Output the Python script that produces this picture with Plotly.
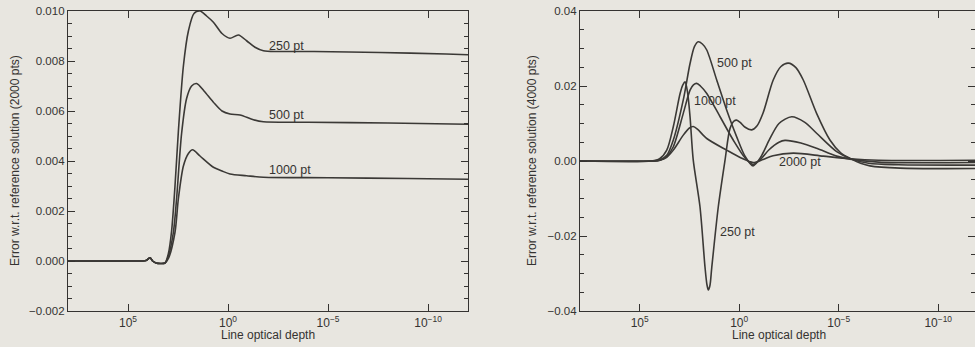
import numpy as np
import plotly.graph_objects as go

# ---------------- Left panel: error w.r.t. 2000-pt reference ----------------
start_log = [8.0, 5.0, 4.1, 3.9, 3.77, 3.6, 3.35, 3.15]
start_err = [0.0, 0.0, 0.00002, 0.00013, 0.0, -0.00008, -0.0001, -0.00008]

L250_log = start_log + [2.98, 2.82, 2.65, 2.48, 2.23, 1.98, 1.70, 1.40, 1.07, 0.73, 0.30, -0.10,
                        -0.52, -0.93, -1.35, -1.77, -2.5, -4.3, -7.6, -10.9, -12.0]
L250_err = start_err + [0.0003, 0.0012, 0.0030, 0.0052, 0.0078, 0.0092, 0.0099, 0.0100, 0.0098,
                        0.00955, 0.0091, 0.00891, 0.00904, 0.00881, 0.00855, 0.00841, 0.00838,
                        0.00838, 0.00834, 0.00828, 0.00825]

L500_log = start_log + [2.98, 2.73, 2.57, 2.32, 2.07, 1.82, 1.57, 1.2, 0.73, 0.3, -0.1, -0.6,
                        -1.27, -1.77, -4.0, -8.0, -12.0]
L500_err = start_err + [0.0002, 0.00115, 0.0025, 0.0051, 0.0065, 0.0070, 0.0071, 0.0068, 0.00635,
                        0.0060, 0.00588, 0.00584, 0.00565, 0.00557, 0.00555, 0.00552, 0.00547]

L1000_log = start_log + [2.98, 2.65, 2.48, 2.23, 1.98, 1.77, 1.4, 0.73, 0.3, -0.1, -0.93, -1.77,
                         -5.0, -9.0, -12.0]
L1000_err = start_err + [0.0001, 0.00115, 0.0025, 0.0038, 0.0043, 0.00445, 0.0042, 0.00375, 0.0036,
                         0.00348, 0.00341, 0.00335, 0.00333, 0.0033, 0.00327]

# ---------------- Right panel: error w.r.t. 4000-pt reference ----------------
R250_log = [8.0, 4.4, 4.0, 3.64, 3.31, 2.97, 2.83, 2.72, 2.6, 2.47, 2.31, 1.97, 1.72, 1.62, 1.55,
            1.47, 1.38, 1.05, 0.71, 0.46, 0.25, 0.13, -0.05, -0.3, -0.63, -0.9, -1.2, -1.71,
            -2.1, -2.47, -2.85, -3.22, -3.89, -4.56, -5.1, -5.57, -6.1, -6.57, -8.08, -12.0]
R250_err = [0.0, 0.0, 0.0006, 0.0029, 0.0092, 0.018, 0.0203, 0.0211, 0.0185, 0.0118, 0.0003,
            -0.0122, -0.0282, -0.0330, -0.0344, -0.0332, -0.0285, -0.0122, 0.0003, 0.0087, 0.0107,
            0.0109, 0.0103, 0.0090, 0.0083, 0.0094, 0.0128, 0.0216, 0.0252, 0.0261, 0.0249,
            0.0216, 0.0127, 0.0056, 0.0022, 0.0007, -0.0006, -0.0013, -0.0019, -0.002]

R500_log = [8.0, 4.4, 3.98, 3.64, 3.31, 2.81, 2.47, 2.25, 2.06, 1.85, 1.63, 1.13, 0.63, 0.13,
            -0.3, -0.7, -1.1, -1.5, -2.0, -2.64, -3.3, -3.89, -4.9, -5.57, -6.5, -8.0, -12.0]
R500_err = [0.0, 0.0, 0.0003, 0.0015, 0.0056, 0.0163, 0.026, 0.0305, 0.0318, 0.0312, 0.0296,
            0.0216, 0.0136, 0.0065, 0.0012, -0.0013, 0.0012, 0.0055, 0.0100, 0.0118, 0.0103,
            0.0074, 0.0025, 0.0007, -0.0006, -0.001, -0.0011]

R1000_log = [8.0, 4.4, 3.98, 3.64, 3.31, 2.81, 2.47, 2.3, 2.14, 1.95, 1.63, 0.96, 0.3, -0.3,
             -0.7, -1.1, -1.5, -2.0, -2.3, -3.1, -3.89, -4.9, -5.57, -7.0, -12.0]
R1000_err = [0.0, 0.0, 0.0002, 0.0012, 0.0038, 0.0127, 0.0189, 0.0203, 0.0207, 0.0200, 0.018,
             0.0118, 0.0056, 0.0008, -0.0009, 0.0006, 0.0030, 0.0050, 0.0055, 0.0048, 0.0034,
             0.0013, 0.0005, -0.0003, -0.0004]

R2000_log = [8.0, 4.4, 3.98, 3.64, 3.31, 2.81, 2.5, 2.31, 2.1, 1.63, 0.63, -0.1, -0.7, -1.2,
             -1.7, -2.72, -4.23, -5.57, -7.0, -12.0]
R2000_err = [0.0, 0.0, 0.0002, 0.001, 0.0029, 0.0069, 0.0088, 0.0092, 0.0085, 0.006, 0.0029,
             0.0008, -0.0004, 0.0004, 0.0014, 0.0021, 0.0013, 0.0006, 0.0002, 0.0002]

left_labels = [("250 pt", -2.9, 0.0086), ("500 pt", -2.9, 0.00585), ("1000 pt", -3.1, 0.00365)]
right_labels = [("500 pt", 0.24, 0.0261), ("1000 pt", 1.22, 0.016),
                ("2000 pt", -3.08, -0.0002), ("250 pt", 0.09, -0.019)]

xtick_vals = [1e5, 1e0, 1e-5, 1e-10]
xtick_text = ["10<sup>5</sup>", "10<sup>0</sup>", "10<sup>\u22125</sup>", "10<sup>\u221210</sup>"]

W, H = 975, 347
PAPER = "#e8e6e0"
INK = "#353331"
LINE = "#3b3936"
FONT = "Liberation Sans, Arial, sans-serif"

fig = go.Figure()


def add_line(logs, errs, xa, ya):
    fig.add_trace(go.Scatter(
        x=np.power(10.0, np.array(logs)), y=errs, mode="lines",
        line=dict(color=LINE, width=1.6, shape="spline", smoothing=0.8),
        xaxis=xa, yaxis=ya, showlegend=False, hoverinfo="skip"))


for lg, er in [(L250_log, L250_err), (L500_log, L500_err), (L1000_log, L1000_err)]:
    add_line(lg, er, "x", "y")
for lg, er in [(R250_log, R250_err), (R500_log, R500_err), (R1000_log, R1000_err),
               (R2000_log, R2000_err)]:
    add_line(lg, er, "x2", "y2")

mt, mb = 11, 36
plot_h = H - mt - mb

xcommon = dict(type="log", tickmode="array", tickvals=xtick_vals, ticktext=xtick_text,
               ticks="inside", ticklen=7, tickwidth=1.2, tickcolor=INK,
               showline=True, linecolor=INK, linewidth=1.3, mirror="ticks",
               showgrid=False, zeroline=False,
               tickfont=dict(family=FONT, size=12, color=INK))
ycommon = dict(ticks="inside", ticklen=7, tickwidth=1.2, tickcolor=INK,
               showline=True, linecolor=INK, linewidth=1.3, mirror="ticks",
               showgrid=False, zeroline=False,
               tickfont=dict(family=FONT, size=11.5, color=INK))

fig.update_layout(
    width=W, height=H,
    margin=dict(l=0, r=0, t=mt, b=mb),
    paper_bgcolor=PAPER, plot_bgcolor=PAPER,
    xaxis=dict(xcommon, domain=[68 / W, 468 / W], range=[8, -12], anchor="y"),
    yaxis=dict(ycommon, range=[-0.002, 0.010], tickvals=[-0.002, 0, 0.002, 0.004, 0.006, 0.008, 0.010],
               ticktext=["\u22120.002", "0.000", "0.002", "0.004", "0.006", "0.008", "0.010"],
               minor=dict(dtick=0.0005, ticks="inside", ticklen=4, tickcolor=INK, showgrid=False),
               anchor="x"),
    xaxis2=dict(xcommon, domain=[580 / W, 1.0], range=[8, -11.85], anchor="y2"),
    yaxis2=dict(ycommon, range=[-0.04, 0.04], tickvals=[-0.04, -0.02, 0, 0.02, 0.04],
                ticktext=["\u22120.04", "\u22120.02", "0.00", "0.02", "0.04"],
                minor=dict(dtick=0.005, ticks="inside", ticklen=4, tickcolor=INK, showgrid=False),
                anchor="x2"),
)

ann = []
for txt, lx, ly in left_labels:
    ann.append(dict(text=txt, x=lx, y=ly, xref="x", yref="y", showarrow=False,
                    xanchor="center", yanchor="middle",
                    font=dict(family=FONT, size=12.5, color=INK)))
for txt, lx, ly in right_labels:
    ann.append(dict(text=txt, x=lx, y=ly, xref="x2", yref="y2", showarrow=False,
                    xanchor="center", yanchor="middle",
                    font=dict(family=FONT, size=12.5, color=INK)))

def py(ypix):
    return (H - mb - ypix) / plot_h

ann.append(dict(text="Line optical depth", x=268 / W, y=py(335), xref="paper", yref="paper",
                showarrow=False, xanchor="center", yanchor="middle",
                font=dict(family=FONT, size=12, color=INK)))
ann.append(dict(text="Line optical depth", x=779 / W, y=py(335), xref="paper", yref="paper",
                showarrow=False, xanchor="center", yanchor="middle",
                font=dict(family=FONT, size=12, color=INK)))
ann.append(dict(text="Error w.r.t. reference solution (2000 pts)", x=15 / W, y=py(161),
                xref="paper", yref="paper", showarrow=False, textangle=-90,
                xanchor="center", yanchor="middle",
                font=dict(family=FONT, size=12, color=INK)))
ann.append(dict(text="Error w.r.t. reference solution (4000 pts)", x=532 / W, y=py(161),
                xref="paper", yref="paper", showarrow=False, textangle=-90,
                xanchor="center", yanchor="middle",
                font=dict(family=FONT, size=12, color=INK)))
fig.update_layout(annotations=ann)

fig.write_html("out.html")
